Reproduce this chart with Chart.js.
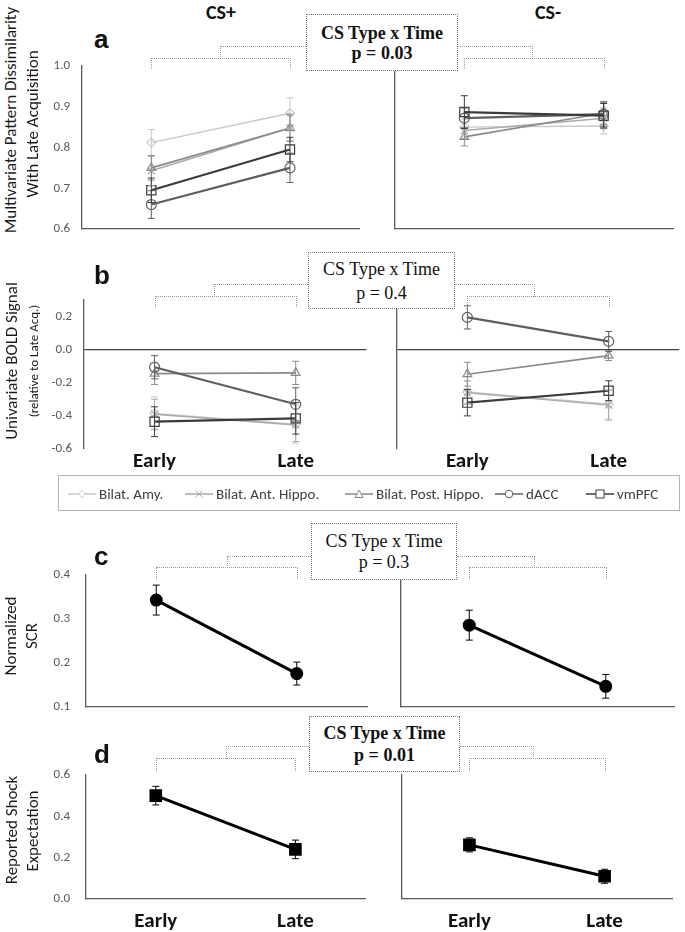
<!DOCTYPE html>
<html><head><meta charset="utf-8">
<script src="https://cdn.jsdelivr.net/npm/chart.js@4.4.1/dist/chart.umd.min.js"></script>
<style>
html,body{margin:0;padding:0;background:#fff;}
#root{position:relative;width:685px;height:932px;overflow:hidden;background:#fff;}
canvas{position:absolute;}
.t{position:absolute;white-space:nowrap;transform:translate(-50%,-50%);font-family:Carlito,Lato,'Open Sans',sans-serif;color:#1a1a1a;line-height:1.2;}
.r{transform:translate(-50%,-50%) rotate(-90deg);}
.box{position:absolute;box-sizing:border-box;border:1px dotted #707070;background:#fff;z-index:5;display:flex;flex-direction:column;justify-content:center;align-items:center;font-family:'Liberation Serif','Times New Roman',serif;font-size:18px;color:#111;}
.br{position:absolute;box-sizing:border-box;border:0 dotted #9a9a9a;z-index:4;}
.lt{position:absolute;font-family:'Liberation Sans',Arial,sans-serif;font-weight:bold;font-size:26px;line-height:26px;color:#111;}
.leg{position:absolute;left:58px;top:475px;width:622px;height:36px;box-sizing:border-box;border:1px solid #b5b5b5;}
.li{position:absolute;top:487px;height:14px;display:flex;align-items:center;font-family:Carlito,Lato,'Open Sans',sans-serif;font-size:15px;color:#404040;white-space:nowrap;}
.li svg{margin-right:3px;}
</style></head>
<body><div id="root"></div>
<script>
// ---------- data ----------
const CATEGORIES = ['Early', 'Late'];
const REGIONS = ['Bilat. Amy.', 'Bilat. Ant. Hippo.', 'Bilat. Post. Hippo.', 'dACC', 'vmPFC'];

// (a) multivariate pattern dissimilarity, per region [Amy, AntHippo, PostHippo, dACC, vmPFC]
const mvpaPlusEarly     = [0.812, 0.743, 0.750, 0.660, 0.695];
const mvpaPlusLate      = [0.884, 0.848, 0.848, 0.750, 0.795];
const mvpaPlusErrEarly  = [0.032, 0.036, 0.030, 0.034, 0.030];
const mvpaPlusErrLate   = [0.038, 0.034, 0.032, 0.036, 0.030];
const mvpaMinusEarly    = [0.850, 0.842, 0.826, 0.872, 0.887];
const mvpaMinusLate     = [0.853, 0.872, 0.884, 0.882, 0.878];
const mvpaMinusErrEarly = [0.020, 0.020, 0.022, 0.025, 0.040];
const mvpaMinusErrLate  = [0.020, 0.025, 0.028, 0.030, 0.030];

// (b) univariate BOLD signal
const boldPlusEarly     = [-0.385, -0.390, -0.145, -0.106, -0.435];
const boldPlusLate      = [-0.450, -0.455, -0.140, -0.330, -0.415];
const boldPlusErrEarly  = [0.100, 0.090, 0.065, 0.070, 0.090];
const boldPlusErrLate   = [0.115, 0.100, 0.070, 0.100, 0.095];
const boldMinusEarly    = [-0.256, -0.260, -0.148, 0.195, -0.320];
const boldMinusLate     = [-0.330, -0.335, -0.036, 0.050, -0.248];
const boldMinusErrEarly = [0.070, 0.070, 0.072, 0.070, 0.080];
const boldMinusErrLate  = [0.090, 0.090, 0.030, 0.060, 0.060];

// (c) normalized SCR  [Early, Late]
const scrPlus = [0.343, 0.176];
const scrPlusErr = [0.034, 0.026];
const scrMinus = [0.286, 0.147];
const scrMinusErr = [0.034, 0.027];

// (d) reported shock expectation [Early, Late]
const shockPlus = [0.500, 0.240];
const shockPlusErr = [0.045, 0.045];
const shockMinus = [0.262, 0.110];
const shockMinusErr = [0.034, 0.034];

// tick labels
const mvpaTicks  = [0.6, 0.7, 0.8, 0.9, 1.0];
const boldTicks  = [-0.6, -0.4, -0.2, 0.0, 0.2];
const scrTicks   = [0.1, 0.2, 0.3, 0.4];
const shockTicks = [0.0, 0.2, 0.4, 0.6];

// ---------- styles ----------
const AX = '#5a5a5a';
const FONT = "Carlito, Lato, 'Open Sans', sans-serif";
const REGION_COLORS = ['#c8c8c8', '#aaaaaa', '#8a8a8a', '#5f5f5f', '#3b3b3b'];
const REGION_POINTS = ['rectRot', 'crossRot', 'triangle', 'circle', 'rect'];
const REGION_RADIUS = [4.5, 5, 5, 5, 6.5];
const REGION_WIDTH = [1.5, 1.5, 1.6, 2.2, 2.2];

const root = document.getElementById('root');

const errorBars = {
  id: 'errorBars',
  afterDatasetsDraw(chart) {
    const ctx = chart.ctx, ys = chart.scales.y;
    chart.data.datasets.forEach((ds, i) => {
      if (!ds.errors) return;
      const meta = chart.getDatasetMeta(i);
      meta.data.forEach((pt, j) => {
        const v = ds.data[j], e = ds.errors[j];
        const y1 = ys.getPixelForValue(v + e), y2 = ys.getPixelForValue(v - e);
        const cap = ds.capHalf || 3.5;
        ctx.save();
        ctx.strokeStyle = ds.errorColor || ds.borderColor;
        ctx.lineWidth = 1;
        ctx.beginPath();
        ctx.moveTo(pt.x, y1); ctx.lineTo(pt.x, y2);
        ctx.moveTo(pt.x - cap, y1); ctx.lineTo(pt.x + cap, y1);
        ctx.moveTo(pt.x - cap, y2); ctx.lineTo(pt.x + cap, y2);
        ctx.stroke();
        ctx.restore();
      });
    });
  }
};

function regionSets(early, late, errE, errL) {
  return REGIONS.map((name, i) => ({
    label: name,
    data: [early[i], late[i]],
    errors: [errE[i], errL[i]],
    borderColor: REGION_COLORS[i],
    backgroundColor: 'rgba(255,255,255,0)',
    pointBackgroundColor: 'rgba(255,255,255,0)',
    pointBorderColor: REGION_COLORS[i],
    pointStyle: REGION_POINTS[i],
    pointRadius: REGION_RADIUS[i],
    pointBorderWidth: 1.2,
    borderWidth: REGION_WIDTH[i],
    order: 4 - i
  }));
}
function singleSet(values, errs, style, radius) {
  return [{
    data: values, errors: errs, borderColor: '#000', backgroundColor: '#000',
    pointBackgroundColor: '#000', pointBorderColor: '#000', pointStyle: style,
    pointRadius: radius, borderWidth: 3, errorColor: '#000', capHalf: 3.5
  }];
}

function makeChart(area, o) {
  const cv = document.createElement('canvas');
  const cl = o.left ? 40 : area.L - 6;
  const yW = area.L - cl;
  const xH = o.xLabels ? o.xH : 10;
  const ct = area.T - 12;
  cv.width = area.R + 4 - cl;
  cv.height = area.B + xH - ct;
  cv.style.left = cl + 'px';
  cv.style.top = ct + 'px';
  root.appendChild(cv);
  return new Chart(cv, {
    type: 'line',
    data: { labels: CATEGORIES, datasets: o.datasets },
    plugins: [errorBars],
    options: {
      responsive: false, animation: false, devicePixelRatio: 1,
      layout: { padding: { top: 12, right: 4, left: 0, bottom: 0 } },
      plugins: { legend: { display: false }, tooltip: { enabled: false } },
      elements: { line: { tension: 0 } },
      scales: {
        x: {
          type: 'category', offset: true,
          grid: { display: false, drawTicks: false },
          border: { display: !o.zero, color: AX, width: 1.3 },
          ticks: { display: !!o.xLabels, padding: o.xPad || 0, color: '#111',
                   font: { family: FONT, size: 21, weight: 'bold' } },
          afterFit: s => { s.height = xH; s.paddingLeft = 0; s.paddingRight = 0; }
        },
        y: {
          min: o.min, max: o.max,
          afterBuildTicks: s => { s.ticks = o.ticks.map(v => ({ value: v })); },
          ticks: { display: o.left, padding: o.tickPad || 10, color: '#595959',
                   font: { family: FONT, size: 13 }, callback: v => Number(v).toFixed(1) },
          grid: { display: !!o.zero, drawTicks: false, lineWidth: 1.3,
                  color: c => (c.tick && Math.abs(c.tick.value) < 1e-9) ? '#404040' : 'rgba(0,0,0,0)' },
          border: { display: true, color: AX, width: 1.3 },
          afterFit: s => { s.width = yW; s.paddingTop = 0; s.paddingBottom = 0; }
        }
      }
    }
  });
}

const aL = makeChart({L:82, R:363, T:66, B:229}, {left:true, min:0.6, max:1.0, ticks:mvpaTicks, tickPad:12,
  datasets: regionSets(mvpaPlusEarly, mvpaPlusLate, mvpaPlusErrEarly, mvpaPlusErrLate)});
const aR = makeChart({L:393, R:677, T:66, B:229}, {left:false, min:0.6, max:1.0, ticks:mvpaTicks,
  datasets: regionSets(mvpaMinusEarly, mvpaMinusLate, mvpaMinusErrEarly, mvpaMinusErrLate)});
const bL = makeChart({L:84, R:370, T:300, B:449}, {left:true, min:-0.6, max:0.3, ticks:boldTicks, tickPad:12,
  zero:true, xLabels:true, xPad:0, xH:28,
  datasets: regionSets(boldPlusEarly, boldPlusLate, boldPlusErrEarly, boldPlusErrLate)});
const bR = makeChart({L:395, R:683, T:300, B:449}, {left:false, min:-0.6, max:0.3, ticks:boldTicks,
  zero:true, xLabels:true, xPad:0, xH:28,
  datasets: regionSets(boldMinusEarly, boldMinusLate, boldMinusErrEarly, boldMinusErrLate)});
const cL = makeChart({L:86, R:371, T:575, B:707}, {left:true, min:0.1, max:0.4, ticks:scrTicks, tickPad:16,
  datasets: singleSet(scrPlus, scrPlusErr, 'circle', 5)});
const cR = makeChart({L:399, R:678, T:575, B:707}, {left:false, min:0.1, max:0.4, ticks:scrTicks,
  datasets: singleSet(scrMinus, scrMinusErr, 'circle', 5)});
const dL = makeChart({L:86, R:371, T:775, B:899}, {left:true, min:0, max:0.6, ticks:shockTicks, tickPad:16,
  xLabels:true, xPad:10, xH:38, datasets: singleSet(shockPlus, shockPlusErr, 'rect', 6.8)});
const dR = makeChart({L:398, R:678, T:775, B:899}, {left:false, min:0, max:0.6, ticks:shockTicks,
  xLabels:true, xPad:10, xH:38, datasets: singleSet(shockMinus, shockMinusErr, 'rect', 6.8)});

// ---------- annotations ----------
function el(cls, css, html) {
  const d = document.createElement('div');
  d.className = cls; Object.assign(d.style, css);
  if (html !== undefined) d.innerHTML = html;
  root.appendChild(d); return d;
}
function px(ch, i) { return ch.canvas.offsetLeft + ch.scales.x.getPixelForValue(i); }
function bar(x1, x2, yBar, yEnd) {
  el('br', {left: x1+'px', top: yBar+'px', width: (x2-x1+1)+'px', height: (yEnd-yBar)+'px',
    borderTopWidth:'1px', borderLeftWidth:'1px', borderRightWidth:'1px'});
}
function brackets(chL, chR, b) {
  const l1 = px(chL,0), l2 = px(chL,1), r1 = px(chR,0), r2 = px(chR,1);
  bar(l1, l2, b.yBar, b.yEnd);
  bar(r1, r2, b.yBar, b.yEnd);
  el('br', {left: b.midL+'px', top: b.yTop+'px', width: (b.boxL-b.midL)+'px', height: (b.yBar-b.yTop+1)+'px',
    borderTopWidth:'1px', borderLeftWidth:'1px'});
  el('br', {left: b.boxR+'px', top: b.yTop+'px', width: (b.midR-b.boxR+1)+'px', height: (b.yBar-b.yTop+1)+'px',
    borderTopWidth:'1px', borderRightWidth:'1px'});
}
function statBox(b) {
  el('box', {left:b.l+'px', top:b.t+'px', width:b.w+'px', height:b.h+'px', fontWeight: b.bold?'bold':'normal',
    lineHeight: b.lh+'px'}, '<div>CS Type x Time</div><div>' + b.p + '</div>');
}
brackets(aL, aR, {yBar:57.5, yEnd:69, yTop:46, midL:220, boxL:306, midR:532, boxR:458});
brackets(bL, bR, {yBar:295.5, yEnd:307, yTop:284, midL:214, boxL:308, midR:534, boxR:455});
brackets(cL, cR, {yBar:567, yEnd:579, yTop:556, midL:227, boxL:311, midR:534, boxR:457});
brackets(dL, dR, {yBar:758, yEnd:771, yTop:746, midL:226, boxL:309, midR:533, boxR:460});
statBox({l:306, t:14, w:152, h:57, bold:true, lh:20, p:'p = 0.03'});
statBox({l:308, t:252, w:147, h:57, bold:false, lh:24, p:'p = 0.4'});
statBox({l:311, t:523, w:146, h:57, bold:false, lh:21, p:'p = 0.3'});
statBox({l:309, t:716, w:151, h:56, bold:true, lh:22, p:'p = 0.01'});

// titles
el('t', {left:'221px', top:'12px', fontWeight:'bold', fontSize:'20px', color:'#111'}, 'CS+');
el('t', {left:'548px', top:'12px', fontWeight:'bold', fontSize:'20px', color:'#111'}, 'CS-');
// panel letters
[['a',26],['b',262],['c',543],['d',741]].forEach(([s,t]) => el('lt', {left:'94px', top:t+'px'}, s));
// y-axis titles
[['Multivariate Pattern Dissimilarity',11,120,17],['With Late Acquisition',33,124,17],
 ['Univariate BOLD Signal',12,361,17],['(relative to Late Acq.)',34,361,13],
 ['Normalized',11,636,17],['SCR',32,636,17],
 ['Reported Shock',12,830,17],['Expectation',33,831,17]].forEach(([s,x,y,f]) =>
  el('t r', {left:x+'px', top:y+'px', fontSize:f+'px'}, s));

// legend
el('leg', {});
const LEG_X = [68, 185, 345, 495, 586];
function marker(i) {
  const c = REGION_COLORS[i];
  const m = [
    `<polygon points="14,2.5 17.5,6 14,9.5 10.5,6" fill="#fff" stroke="${c}"/>`,
    `<path d="M10.5,2.5 L17.5,9.5 M17.5,2.5 L10.5,9.5" stroke="${c}"/>`,
    `<polygon points="14,2 18,9.5 10,9.5" fill="#fff" stroke="${c}"/>`,
    `<circle cx="14" cy="6" r="3.8" fill="#fff" stroke="${c}"/>`,
    `<rect x="10" y="2" width="8" height="8" fill="#fff" stroke="${c}"/>`
  ][i];
  return `<svg width="28" height="12"><line x1="0" y1="6" x2="28" y2="6" stroke="${c}" stroke-width="1.5"/>${m}</svg>`;
}
REGIONS.forEach((name, i) => el('li', {left: LEG_X[i]+'px'}, marker(i) + '<span>' + name + '</span>'));
</script>
</body></html>
